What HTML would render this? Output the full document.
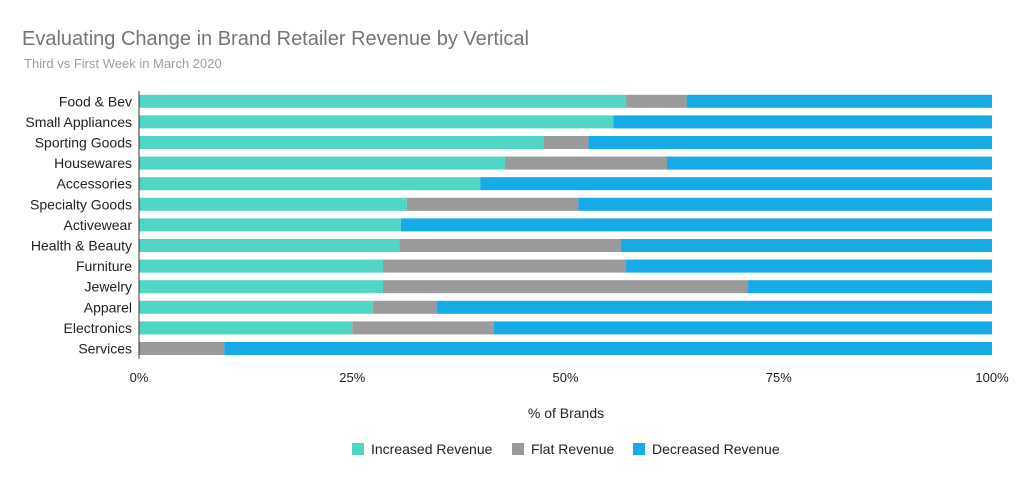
<!DOCTYPE html>
<html><head><meta charset="utf-8"><style>
body{margin:0;background:#fff;font-family:"Liberation Sans",sans-serif;}
svg text{font-family:"Liberation Sans",sans-serif;}
</style></head><body>
<svg id="c" width="1016" height="476">
<text x="22" y="45" font-size="20" fill="#757575">Evaluating Change in Brand Retailer Revenue by Vertical</text>
<text x="24" y="68" font-size="13" fill="#9e9e9e">Third vs First Week in March 2020</text>
<text x="566" y="418" font-size="14" fill="#222" text-anchor="middle">% of Brands</text>
<g id="plot"></g>
<g>
<rect x="352" y="443" width="12" height="12" fill="#4fd6c4"/>
<text x="371" y="454" font-size="14" fill="#222">Increased Revenue</text>
<rect x="512" y="443" width="12" height="12" fill="#9a9a9a"/>
<text x="531" y="454" font-size="14" fill="#222">Flat Revenue</text>
<rect x="633" y="443" width="12" height="12" fill="#16aae6"/>
<text x="652" y="454" font-size="14" fill="#222">Decreased Revenue</text>
</g>
</svg>
<script>
const categories=["Food & Bev","Small Appliances","Sporting Goods","Housewares","Accessories","Specialty Goods","Activewear","Health & Beauty","Furniture","Jewelry","Apparel","Electronics","Services"];
const increased=[57.1,55.6,47.4,42.9,40.0,31.4,30.7,30.5,28.6,28.6,27.4,25.0,0];
const flat=[7.1,0,5.3,19.0,0,20.1,0,26.0,28.5,42.8,7.5,16.6,10.0];
const ticks=[0,25,50,75,100];
const tickLabels=["0%","25%","50%","75%","100%"];
const NS="http://www.w3.org/2000/svg";
const g=document.getElementById('plot');
const x0=139,x1=992,yTop=91,step=20.6,bh=13;
const xs=v=>x0+(x1-x0)*v/100;
const ys=i=>yTop+step*i+step/2;
function mk(t,a){const e=document.createElementNS(NS,t);for(const k in a)e.setAttribute(k,a[k]);g.appendChild(e);return e;}
ticks.forEach((t,i)=>{
  const tx=mk('text',{x:xs(t),y:382,'font-size':13,fill:'#222','text-anchor':'middle'});
  tx.textContent=tickLabels[i];
  
  
});
categories.forEach((c,i)=>{
  const y=ys(i);
  const lb=mk('text',{x:132,y:y+5,'font-size':14,fill:'#222','text-anchor':'end'});
  lb.textContent=c;
  
  
  const d=100-increased[i]-flat[i];
  const segs=[[0,increased[i],'#4fd6c4','bar-increased'],[increased[i],flat[i],'#9a9a9a','bar-flat'],[increased[i]+flat[i],d,'#16aae6','bar-decreased']];
  segs.forEach(s=>{
    if(s[1]<=0)return;
    const r=mk('rect',{x:xs(s[0]),y:y-bh/2,width:xs(s[0]+s[1])-xs(s[0]),height:bh,fill:s[2]});
    
    
  });
});
const ax=mk('line',{x1:x0,x2:x0,y1:yTop,y2:yTop+step*categories.length,stroke:'#333','stroke-width':1});


</script>
</body></html>
